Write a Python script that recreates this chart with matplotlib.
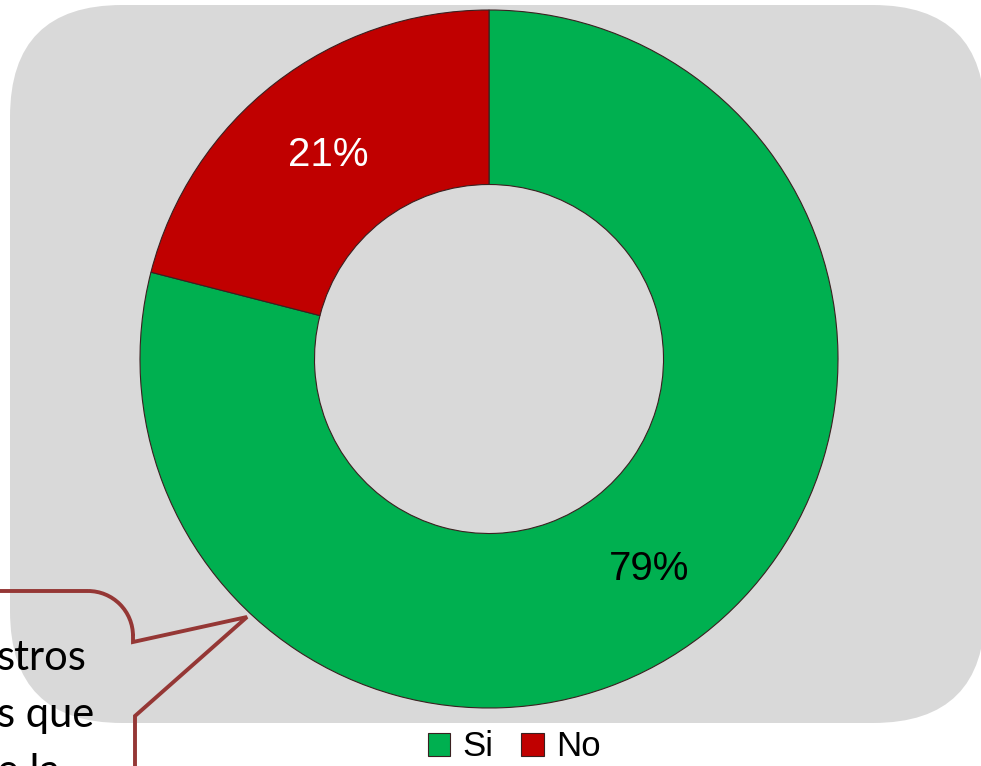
import matplotlib
matplotlib.use("Agg")
import matplotlib.pyplot as plt
from matplotlib.patches import FancyBboxPatch, Arc
import numpy as np

categories = ["Si", "No"]
values = [79, 21]
labels = ["79%", "21%"]
colors = ["#00B050", "#C00000"]
callout_lines = ["stros", "s que", "e la"]

W, H = 981, 766
fig = plt.figure(figsize=(W / 100, H / 100), dpi=100)
ax = fig.add_axes([0, 0, 1, 1])
ax.set_xlim(0, W)
ax.set_ylim(0, H)
ax.set_aspect("equal")
ax.axis("off")

def py(y):
    return H - y

# gray rounded background
bg = FancyBboxPatch((10, py(723)), 985 - 10, 723 - 5,
                    boxstyle="round,pad=0,rounding_size=112",
                    fc="#D9D9D9", ec="none", zorder=0)
ax.add_patch(bg)

cx, cy, R = 489, py(359), 349
wedges, _ = ax.pie(values, colors=colors, startangle=90, counterclock=False,
                   radius=R, center=(cx, cy), frame=True,
                   wedgeprops=dict(width=R * 0.5, edgecolor="#3a2020", linewidth=0.8))
ax.set_xlim(0, W)
ax.set_ylim(0, H)
ax.axis("off")

# labels at ring middle
start = 90
rmid = R * 0.75
for v, lab in zip(values, labels):
    ang = start - v * 3.6 / 2
    start -= v * 3.6
    x = cx + rmid * np.cos(np.radians(ang))
    y = cy + rmid * np.sin(np.radians(ang)) - 3
    ax.text(x, y, lab, ha="center", va="center", fontsize=29,
            family="Liberation Sans", color="black" if lab == "79%" else "white", zorder=5)

# callout shape
lc = "#953735"
lw = 2.8
ax.plot([-5, 88], [py(591), py(591)], color=lc, lw=lw, solid_capstyle="butt", zorder=6)
arc = Arc((88, py(636)), 90, 90, theta1=0, theta2=90, color=lc, lw=lw, zorder=6)
ax.add_patch(arc)
ax.plot([133, 133, 247, 135, 135], [py(636), py(642), py(617), py(716), py(770)],
        color=lc, lw=lw, solid_joinstyle="miter", zorder=6)

for i, t in enumerate(callout_lines):
    ax.text(-3, py(670 + 57 * i), t, ha="left", va="baseline", fontsize=30,
            family="Lato", color="black", zorder=6)

leg = ax.legend(wedges, categories, loc="center", bbox_to_anchor=(514 / W, (H - 747) / H),
                bbox_transform=fig.transFigure, ncol=2, frameon=False,
                prop=dict(family="Liberation Sans", size=25),
                handlelength=0.65, handleheight=0.65, handletextpad=0.35,
                columnspacing=0.8, borderaxespad=0)

fig.savefig("out.png", dpi=100)
